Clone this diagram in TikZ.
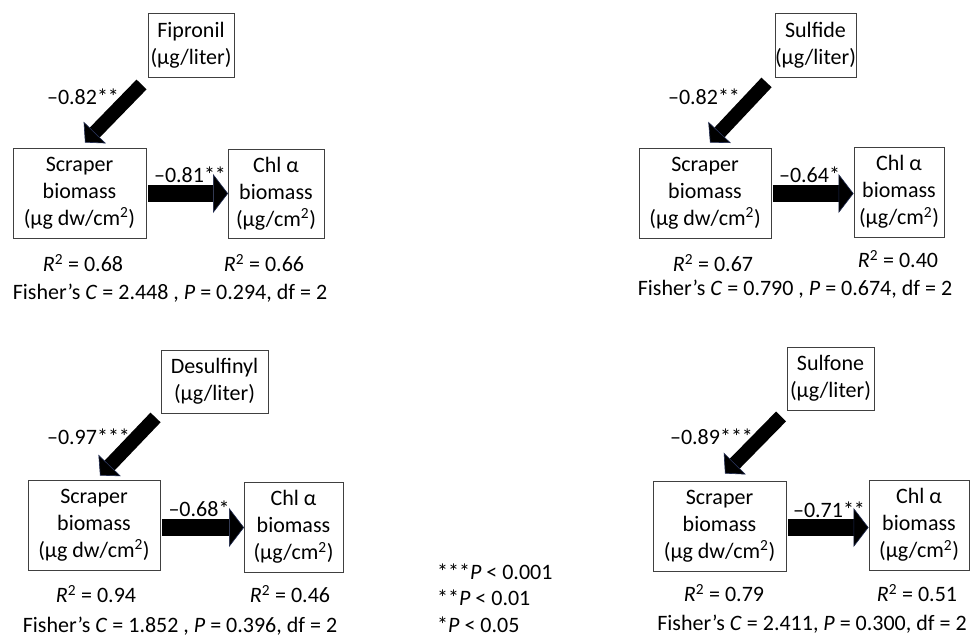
\documentclass[tikz,border=0pt]{standalone}
\usepackage{fontspec}
\setmainfont{Carlito}
\usetikzlibrary{arrows.meta,calc}
\definecolor{edgeblue}{HTML}{1F2A50}
\definecolor{boxline}{HTML}{404040}
\newcommand{\fs}{\fontsize{22}{27}\selectfont}
\newcommand{\sq}{\textsuperscript{2}}
\tikzset{
  box/.style={draw=boxline, line width=0.9pt, inner sep=0pt, align=center, font=\fs},
  lbl/.style={inner sep=0pt, font=\fs},
  diagarrow/.style={line width=14pt, draw=black,
    -{Triangle[length=14pt,width=31pt,line width=0.6pt,color=edgeblue,fill=black]}},
  horarrow/.style={line width=17pt, draw=black,
    -{Triangle[length=15pt,width=39pt,line width=0.6pt,color=edgeblue,fill=black]}},
}
\begin{document}
\begin{tikzpicture}[x=1pt,y=-1pt]
\useasboundingbox (0,0) rectangle (971,637);
\fill[white] (0,0) rectangle (971,637);

% ---------- Panel 1 ----------
\node[box, minimum width=86pt, minimum height=64pt] (fip) at (191,45) {Fipronil\\(µg/liter)};
\node[box, minimum width=133pt, minimum height=90pt] (scr1) at (79.5,193) {Scraper\\biomass\\(µg dw/cm\sq)};
\node[box, minimum width=96pt, minimum height=89pt] (chl1) at (276,193.5) {Chl α\\biomass\\(µg/cm\sq)};
\draw[diagarrow] ($(fip.south west)+(-6,7)$) -- ($(scr1.north)+(5.5,-5)$);
\draw[horarrow] ($(scr1.east)+(1.5,0.5)$) -- ($(scr1.east -| chl1.west)+(0.5,0.5)$);
\node[lbl] (l1a) at (83,97) {–0.82**};
\node[lbl] (l1b) at (190,175) {–0.81**};
\node[lbl] (r1a) at (83,263) {\textit{R}\sq{} = 0.68};
\node[lbl] (r1b) at (264,263) {\textit{R}\sq{} = 0.66};
\node[lbl] (f1) at (170,293) {Fisher’s \textit{C} = 2.448 , \textit{P} = 0.294, df = 2};

% ---------- Panel 2 ----------
\node[box, minimum width=81pt, minimum height=64pt] (sfd) at (815.5,45) {Sulfide\\(µg/liter)};
\node[box, minimum width=132pt, minimum height=90pt] (scr2) at (705,193) {Scraper\\biomass\\(µg dw/cm\sq)};
\node[box, minimum width=90pt, minimum height=90pt] (chl2) at (899,192) {Chl α\\biomass\\(µg/cm\sq)};
\draw[diagarrow] ($(sfd.south west)+(-8,5)$) -- ($(scr2.north)+(5,-5)$);
\draw[horarrow] ($(scr2.east)+(1.5,0.5)$) -- ($(scr2.east -| chl2.west)+(0,0.5)$);
\node[lbl] (l2a) at (704,97) {–0.82**};
\node[lbl] (l2b) at (809.5,175) {–0.64*};
\node[lbl] (r2a) at (713,263) {\textit{R}\sq{} = 0.67};
\node[lbl] (r2b) at (898,259) {\textit{R}\sq{} = 0.40};
\node[lbl] (f2) at (795,289) {Fisher’s \textit{C} = 0.790 , \textit{P} = 0.674, df = 2};

% ---------- Panel 3 ----------
\node[box, minimum width=107pt, minimum height=63pt] (des) at (214.5,381.5) {Desulfinyl\\(µg/liter)};
\node[box, minimum width=132pt, minimum height=90pt] (scr3) at (94,525) {Scraper\\biomass\\(µg dw/cm\sq)};
\node[box, minimum width=99pt, minimum height=90pt] (chl3) at (293.5,527) {Chl α\\biomass\\(µg/cm\sq)};
\draw[diagarrow] ($(des.south west)+(-5,4)$) -- ($(scr3.north)+(6,-4)$);
\draw[horarrow] ($(scr3.east)+(1.5,2.5)$) -- ($(scr3.east -| chl3.west)+(0.5,2.5)$);
\node[lbl] (l3a) at (88.5,437) {–0.97***};
\node[lbl] (l3b) at (199,509) {–0.68*};
\node[lbl] (r3a) at (96,594) {\textit{R}\sq{} = 0.94};
\node[lbl] (r3b) at (290,594) {\textit{R}\sq{} = 0.46};
\node[lbl] (f3) at (180,626) {Fisher’s \textit{C} = 1.852 , \textit{P} = 0.396, df = 2};

% ---------- Panel 4 ----------
\node[box, minimum width=87pt, minimum height=63pt] (sfn) at (830.5,378.5) {Sulfone\\(µg/liter)};
\node[box, minimum width=133pt, minimum height=90pt] (scr4) at (719.5,526) {Scraper\\biomass\\(µg dw/cm\sq)};
\node[box, minimum width=100pt, minimum height=90pt] (chl4) at (919,525) {Chl α\\biomass\\(µg/cm\sq)};
\draw[diagarrow] ($(sfn.south west)+(-5.5,6)$) -- ($(scr4.north)+(5.5,-7)$);
\draw[horarrow] ($(scr4.east)+(1.5,1.5)$) -- ($(scr4.east -| chl4.west)+(0,1.5)$);
\node[lbl] (l4a) at (711.5,437) {–0.89***};
\node[lbl] (l4b) at (829,510) {–0.71**};
\node[lbl] (r4a) at (724,593) {\textit{R}\sq{} = 0.79};
\node[lbl] (r4b) at (917,593) {\textit{R}\sq{} = 0.51};
\node[lbl] (f4) at (812,624) {Fisher’s \textit{C} = 2.411, \textit{P} = 0.300, df = 2};

% ---------- Legend ----------
\node[lbl, anchor=west] (leg1) at (437,572) {***\textit{P} < 0.001};
\node[lbl, anchor=west] (leg2) at (437,598) {**\textit{P} < 0.01};
\node[lbl, anchor=west] (leg3) at (437,625) {*\textit{P} < 0.05};
\end{tikzpicture}
\end{document}
